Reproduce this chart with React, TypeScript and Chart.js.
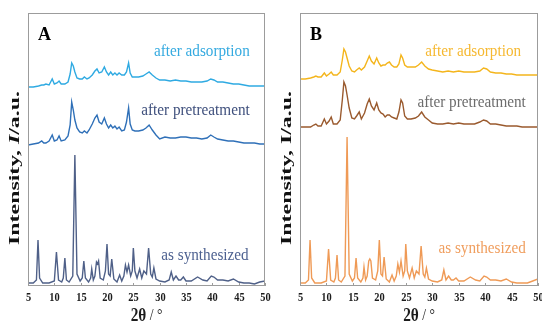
import React, { useEffect, useRef } from "react";
import { Chart, registerables } from "chart.js";

Chart.register(...registerables);

// ---- data (2θ in degrees, intensity in arbitrary units incl. stacking offset) ----
const SYN_2THETA = [
  5.0, 6.0, 6.6, 6.9, 7.2, 7.8, 9.0, 10.0, 10.4, 10.8, 11.4, 11.7, 12.0, 12.3, 12.8, 13.5, 13.9, 14.3, 14.9, 15.3,
  15.6, 15.9, 16.5, 16.9, 17.1, 17.4, 17.7, 18.0, 18.2, 18.4, 18.7, 19.3, 19.7, 20.0, 20.3, 20.6, 20.9, 21.3, 21.9, 22.4,
  22.8, 23.2, 23.5, 23.8, 24.1, 24.5, 24.8, 25.0, 25.3, 25.7, 26.2, 26.6, 27.0, 27.5, 27.9, 28.3, 28.6, 28.9, 29.3, 30.0,
  31.0, 31.8, 32.2, 32.6, 33.1, 33.6, 34.0, 34.5, 35.0, 36.0, 37.2, 38.2, 39.0, 39.8, 40.3, 41.0, 42.0, 43.0, 44.0, 45.0,
  46.0, 47.0, 48.0, 49.0, 50.0,
];
const A_SYNTH = [
  3, 3, 6, 46, 8, 3, 3, 5, 34, 6, 4, 8, 28, 6, 4, 10, 131, 12, 5, 8,
  25, 8, 4, 8, 17, 6, 10, 24, 22, 25, 8, 6, 15, 42, 12, 10, 27, 7, 4, 11,
  5, 10, 21, 14, 21, 10, 15, 38, 15, 8, 17, 8, 15, 12, 38, 12, 9, 18, 7, 5,
  4, 6, 14, 6, 10, 6, 6, 9, 5, 5, 9, 6, 5, 10, 9, 6, 6, 5, 7, 4,
  3, 3, 2, 4, 5,
];
const B_SYNTH = [
  3, 3, 6, 46, 8, 3, 3, 5, 37, 6, 4, 8, 31, 6, 4, 10, 149, 12, 5, 8,
  28, 8, 4, 8, 19, 6, 10, 25, 27, 25, 8, 6, 15, 46, 12, 10, 29, 7, 4, 11,
  5, 10, 22, 14, 25, 10, 15, 42, 15, 8, 18, 8, 15, 12, 40, 12, 9, 18, 7, 5,
  4, 6, 16, 6, 10, 6, 6, 8, 5, 5, 9, 6, 5, 10, 9, 6, 6, 5, 7, 4,
  3, 3, 3, 5, 7,
];

const TREATED_2THETA = [
  5.0, 6.0, 7.0, 7.6, 8.0, 8.4, 9.0, 9.6, 10.0, 10.5, 10.9, 11.3, 12.0, 12.6, 13.0, 13.3, 13.6, 13.9, 14.3, 14.8,
  15.3, 15.7, 16.2, 16.6, 17.2, 17.7, 18.1, 18.5, 19.0, 19.5, 19.9, 20.3, 20.7, 21.1, 21.5, 21.9, 22.3, 22.8, 23.3, 23.7,
  24.1, 24.4, 24.8, 25.3, 26.0, 26.8, 27.4, 28.0, 28.6, 29.3, 30.0, 31.0, 32.0, 33.0, 34.0, 35.0, 36.0, 37.0, 38.0, 39.0,
  39.7, 40.3, 41.0, 42.0, 43.0, 44.0, 45.0, 46.0, 47.0, 48.0, 49.0, 50.0,
];
const A_PRETREAT = [
  141, 142, 143, 145, 143, 143, 145, 151, 145, 146, 150, 145, 146, 150, 161, 184, 176, 166, 158, 154,
  153, 155, 153, 156, 162, 168, 171, 164, 162, 168, 162, 158, 161, 158, 160, 157, 159, 155, 156, 164,
  178, 162, 156, 155, 155, 156, 158, 161, 156, 151, 147, 149, 148, 148, 149, 149, 148, 148, 147, 148,
  151, 149, 147, 146, 145, 145, 144, 143, 143, 143, 142, 142,
];
const A_ADSORB = [
  199, 199, 200, 201, 201, 202, 201, 207, 202, 203, 205, 202, 202, 204, 212, 223, 220, 214, 208, 207,
  207, 209, 207, 208, 211, 215, 217, 213, 214, 219, 214, 211, 214, 211, 213, 211, 213, 211, 211, 214,
  223, 213, 209, 209, 209, 210, 212, 214, 211, 208, 206, 206, 205, 206, 205, 205, 204, 204, 204, 205,
  207, 206, 204, 204, 203, 202, 202, 201, 200, 200, 200, 200,
];
const B_PRETREAT = [
  159, 159, 159, 161, 162, 160, 160, 167, 162, 165, 169, 162, 162, 166, 186, 204, 200, 191, 178, 168,
  167, 170, 174, 167, 173, 182, 187, 180, 176, 183, 176, 173, 172, 169, 171, 171, 169, 168, 167, 174,
  186, 183, 170, 167, 167, 168, 170, 174, 169, 166, 163, 162, 162, 163, 162, 163, 162, 162, 162, 164,
  166, 165, 162, 162, 161, 160, 160, 160, 159, 159, 159, 159,
];
const B_ADSORB = [
  207, 207, 208, 209, 210, 209, 209, 213, 210, 212, 214, 211, 211, 214, 226, 237, 234, 228, 220, 215,
  214, 216, 218, 216, 219, 225, 230, 225, 222, 228, 223, 220, 221, 221, 223, 224, 221, 219, 219, 222,
  231, 228, 221, 219, 219, 219, 221, 224, 220, 217, 216, 215, 214, 215, 214, 215, 214, 214, 214, 215,
  218, 217, 214, 213, 213, 212, 212, 211, 211, 211, 211, 211,
];

const X_TICKS = [5, 10, 15, 20, 25, 30, 35, 40, 45, 50];
const SERIES_NAMES = ["after adsorption", "after pretreatment", "as synthesized"];

type Label = { text: string; color: string; x: number; y: number };
type Panel = {
  letter: string;
  padLeft: number;
  padRight: number;
  italicI: boolean;
  series: { theta: number[]; values: number[]; color: string }[];
  labels: Label[];
};

const PANELS: Panel[] = [
  {
    letter: "A",
    padLeft: 28,
    padRight: 6,
    italicI: true,
    series: [
      { theta: TREATED_2THETA, values: A_ADSORB, color: "#2faae2" },
      { theta: TREATED_2THETA, values: A_PRETREAT, color: "#2f70b8" },
      { theta: SYN_2THETA, values: A_SYNTH, color: "#4f6088" },
    ],
    labels: [
      { text: SERIES_NAMES[0], color: "#35aae0", x: 47.1, y: 234 },
      { text: SERIES_NAMES[1], color: "#3e4f7c", x: 47.1, y: 175 },
      { text: SERIES_NAMES[2], color: "#4d6190", x: 46.9, y: 30 },
    ],
  },
  {
    letter: "B",
    padLeft: 29,
    padRight: 4,
    italicI: false,
    series: [
      { theta: TREATED_2THETA, values: B_ADSORB, color: "#f4b51c" },
      { theta: TREATED_2THETA, values: B_PRETREAT, color: "#9a5a2e" },
      { theta: SYN_2THETA, values: B_SYNTH, color: "#ef9a56" },
    ],
    labels: [
      { text: SERIES_NAMES[0], color: "#f6b932", x: 46.8, y: 234 },
      { text: SERIES_NAMES[1], color: "#6c6c6c", x: 47.7, y: 183 },
      { text: SERIES_NAMES[2], color: "#f09e5e", x: 47.7, y: 37 },
    ],
  },
];

const SERIF = '"Liberation Serif", "Times New Roman", serif';

type Part = { text: string; font: string };
function drawParts(
  ctx: CanvasRenderingContext2D,
  parts: Part[],
  x: number,
  y: number,
  align: "left" | "center" | "right",
  color: string,
  sx: number,
  targetWidth?: number
) {
  ctx.save();
  let w = 0;
  for (const p of parts) {
    ctx.font = p.font;
    w += ctx.measureText(p.text).width;
  }
  const scaleX = targetWidth ? targetWidth / w : sx;
  const total = w * scaleX;
  const start = align === "center" ? x - total / 2 : align === "right" ? x - total : x;
  ctx.translate(start, y);
  ctx.scale(scaleX, 1);
  ctx.fillStyle = color;
  ctx.textBaseline = "middle";
  ctx.textAlign = "left";
  let cx = 0;
  for (const p of parts) {
    ctx.font = p.font;
    ctx.fillText(p.text, cx, 0);
    cx += ctx.measureText(p.text).width;
  }
  ctx.restore();
}

function PanelChart({ panel, left }: { panel: Panel; left: number }) {
  const ref = useRef<HTMLCanvasElement | null>(null);
  useEffect(() => {
    if (!ref.current) return;
    const decor = {
      id: "decor",
      afterDraw(chart: any) {
        const ctx: CanvasRenderingContext2D = chart.ctx;
        const a = chart.chartArea;
        const xs = chart.scales.x;
        const ys = chart.scales.y;
        ctx.save();
        // frame
        ctx.strokeStyle = "#9c9c9c";
        ctx.lineWidth = 1;
        ctx.strokeRect(a.left + 0.5, a.top + 0.5, a.right - a.left - 1, a.bottom - a.top - 1);
        // ticks + labels
        for (const t of X_TICKS) {
          const px = Math.round(xs.getPixelForValue(t)) + 0.5;
          ctx.beginPath();
          ctx.moveTo(px, a.bottom);
          ctx.lineTo(px, a.bottom - 3);
          ctx.stroke();
          drawParts(ctx, [{ text: String(t), font: `bold 13px ${SERIF}` }], px, a.bottom + 12, "center", "#1c1c1c", 0.8);
        }
        // x title
        drawParts(
          ctx,
          [
            { text: "2θ", font: `bold 18px ${SERIF}` },
            { text: " / °", font: `16px ${SERIF}` },
          ],
          (a.left + a.right) / 2,
          a.bottom + 30,
          "center",
          "#1c1c1c",
          0.85
        );
        // y title
        ctx.save();
        ctx.translate(a.left - 13, 168);
        ctx.rotate(-Math.PI / 2);
        drawParts(
          ctx,
          [
            { text: "Intensity, ", font: `bold 15px ${SERIF}` },
            { text: "I", font: `${panel.italicI ? "italic " : ""}bold 15px ${SERIF}` },
            { text: "/a.u.", font: `bold 15px ${SERIF}` },
          ],
          0,
          0,
          "center",
          "#111111",
          1,
          154
        );
        ctx.restore();
        // panel letter
        drawParts(ctx, [{ text: panel.letter, font: `bold 18px ${SERIF}` }], a.left + 10, a.top + 22, "left", "#000000", 1);
        // series labels
        for (const l of panel.labels) {
          drawParts(
            ctx,
            [{ text: l.text, font: `16px ${SERIF}` }],
            xs.getPixelForValue(l.x),
            ys.getPixelForValue(l.y),
            "right",
            l.color,
            0.95
          );
        }
        ctx.restore();
      },
    };
    const chart = new Chart(ref.current, {
      type: "line",
      data: {
        datasets: panel.series.map((s) => ({
          data: s.theta.map((x, i) => ({ x, y: s.values[i] })),
          borderColor: s.color,
          borderWidth: 1.4,
          pointRadius: 0,
          tension: 0,
          fill: false,
        })),
      },
      options: {
        animation: false,
        responsive: false,
        devicePixelRatio: 1,
        layout: { padding: { left: panel.padLeft, right: panel.padRight, top: 13, bottom: 38 } },
        plugins: { legend: { display: false }, tooltip: { enabled: false } },
        scales: {
          x: { type: "linear", min: 5, max: 50, display: false },
          y: { type: "linear", min: 0, max: 273, display: false },
        },
      },
      plugins: [decor],
    } as any);
    return () => chart.destroy();
  }, [panel]);
  return (
    <canvas
      ref={ref}
      width={271}
      height={324}
      style={{ position: "absolute", left, top: 0, width: 271, height: 324 }}
    />
  );
}

export default function App() {
  return (
    <div style={{ position: "fixed", left: 0, top: 0, width: 542, height: 324, background: "#ffffff", overflow: "hidden" }}>
      <PanelChart panel={PANELS[0]} left={0} />
      <PanelChart panel={PANELS[1]} left={271} />
    </div>
  );
}
